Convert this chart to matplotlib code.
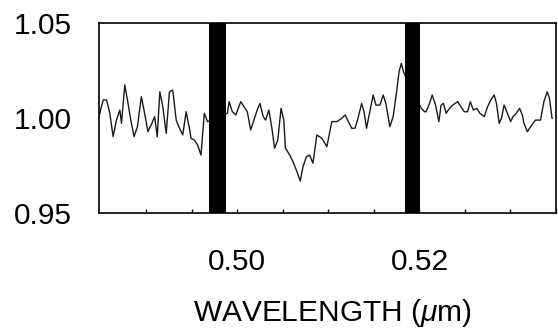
import matplotlib
matplotlib.use("Agg")
import matplotlib.pyplot as plt
import numpy as np

plt.rcParams['font.family'] = ['Liberation Sans', 'DejaVu Sans']
plt.rcParams['mathtext.fontset'] = 'custom'
plt.rcParams['mathtext.it'] = 'Liberation Sans:italic'
plt.rcParams['mathtext.rm'] = 'Liberation Sans'

# Spectrum (wavelength in micrometres, relative flux)
wavelength = [
    0.48479, 0.48526, 0.48563, 0.48599, 0.48635, 0.48672, 0.48709, 0.48727, 0.48763, 0.48799,
    0.48829, 0.48865, 0.48902, 0.48945, 0.48981, 0.49017, 0.49061, 0.49091, 0.49120, 0.49148,
    0.49181, 0.49218, 0.49254, 0.49290, 0.49328, 0.49364, 0.49400, 0.49437, 0.49473, 0.49491,
    0.49527, 0.49563, 0.49600, 0.49637, 0.49672,
    0.49891, 0.49909, 0.49945, 0.49983, 0.50037, 0.50073, 0.50109, 0.50146, 0.50182, 0.50218,
    0.50248, 0.50284, 0.50310, 0.50346, 0.50382, 0.50408, 0.50444, 0.50480, 0.50510, 0.50528,
    0.50575, 0.50611, 0.50655, 0.50690, 0.50721, 0.50758, 0.50794, 0.50830, 0.50873, 0.50928,
    0.50983, 0.51037, 0.51092, 0.51146, 0.51183, 0.51219, 0.51256, 0.51293, 0.51329, 0.51365,
    0.51391, 0.51419, 0.51454, 0.51492, 0.51522, 0.51566, 0.51602, 0.51631, 0.51675, 0.51711,
    0.51747, 0.51776, 0.51801, 0.51825,
    0.52020, 0.52057, 0.52074, 0.52111, 0.52140, 0.52177, 0.52213, 0.52238, 0.52264, 0.52293,
    0.52330, 0.52366, 0.52420, 0.52456, 0.52493, 0.52529, 0.52559, 0.52592, 0.52628, 0.52664,
    0.52712, 0.52748, 0.52784, 0.52821, 0.52846, 0.52876, 0.52901, 0.52930, 0.52966, 0.53002,
    0.53028, 0.53064, 0.53100, 0.53130, 0.53148, 0.53185, 0.53221, 0.53275, 0.53330, 0.53367,
    0.53403, 0.53428, 0.53457,
]
flux = [
    1.0007, 1.0095, 1.0095, 1.0025, 0.9902, 0.9989, 1.0042, 0.9972, 1.0174, 1.0077,
    0.9989, 0.9902, 0.9954, 1.0112, 1.0025, 0.9928, 0.9972, 1.0007, 0.9902, 1.0138,
    1.0059, 0.9919, 1.0138, 1.0147, 0.9989, 0.9946, 0.9911, 1.0033, 0.9946, 0.9893,
    0.9884, 0.9858, 0.9805, 1.0025, 0.9981,
    1.0025, 1.0086, 1.0033, 1.0016, 1.0086, 1.0059, 1.0033, 0.9937, 0.9989, 1.0042,
    1.0077, 1.0007, 0.9989, 1.0042, 0.9937, 0.9841, 0.9884, 1.0051, 0.9989, 0.9841,
    0.9805, 0.9770, 0.9717, 0.9668, 0.9744, 0.9796, 0.9805, 0.9762, 0.9911, 0.9893,
    0.9849, 0.9981, 0.9981, 0.9998, 1.0016, 0.9981, 0.9946, 0.9946, 1.0007, 1.0077,
    1.0033, 0.9946, 1.0032, 1.0121, 1.0068, 1.0068, 1.0121, 1.0077, 0.9954, 1.0007,
    1.0130, 1.0244, 1.0288, 1.0242,
    1.0051, 1.0033, 1.0033, 1.0077, 1.0121, 1.0068, 0.9981, 1.0068, 1.0077, 1.0025,
    1.0051, 1.0068, 1.0086, 1.0059, 1.0033, 1.0033, 1.0086, 1.0042, 1.0051, 1.0025,
    1.0007, 1.0059, 1.0095, 1.0121, 1.0077, 0.9972, 0.9998, 1.0068, 1.0025, 0.9981,
    1.0007, 1.0025, 1.0051, 1.0016, 0.9972, 0.9928, 0.9954, 0.9989, 0.9989, 1.0086,
    1.0138, 1.0104, 0.9998,
]

# Masked wavelength bands (black bars)
band_start = [0.49686, 0.51838]
band_end = [0.49873, 0.52002]

x_range = [0.4848, 0.5347]
y_range = [0.95, 1.05]
x_ticks = [0.490, 0.495, 0.500, 0.505, 0.510, 0.515, 0.520, 0.525, 0.530, 0.535]
x_labeled = {0.500: "0.50", 0.520: "0.52"}
y_ticks = [0.95, 1.00, 1.05]
y_ticklabels = ["0.95", "1.00", "1.05"]

fig = plt.figure(figsize=(5.58, 3.29), dpi=100)
ax = fig.add_axes([99 / 558, 1 - 213 / 329, (556 - 99) / 558, 190 / 329])

ax.plot(wavelength, flux, color='#1a1a1a', lw=1.0, zorder=2)
for s, e in zip(band_start, band_end):
    ax.axvspan(s, e, color='black', lw=0, zorder=3)

ax.set_xlim(*x_range)
ax.set_ylim(*y_range)
ax.set_xticks(x_ticks)
ax.set_xticklabels([x_labeled.get(round(t, 3), "") for t in x_ticks])
ax.set_yticks(y_ticks)
ax.set_yticklabels(y_ticklabels)

ax.tick_params(axis='x', direction='in', length=3, width=1.0, pad=25,
               labelsize=21.5, colors='black')
ax.tick_params(axis='y', length=0, pad=19.5, labelsize=21.5)

for sp in ax.spines.values():
    sp.set_linewidth(1.2)
    sp.set_color('black')

ax.set_xlabel('WAVELENGTH ($\\mu$m)', fontsize=21.5)
ax.xaxis.set_label_coords(0.51, -0.44)
ax.xaxis.label.set_verticalalignment('top')

fig.savefig('out.png', dpi=100)
